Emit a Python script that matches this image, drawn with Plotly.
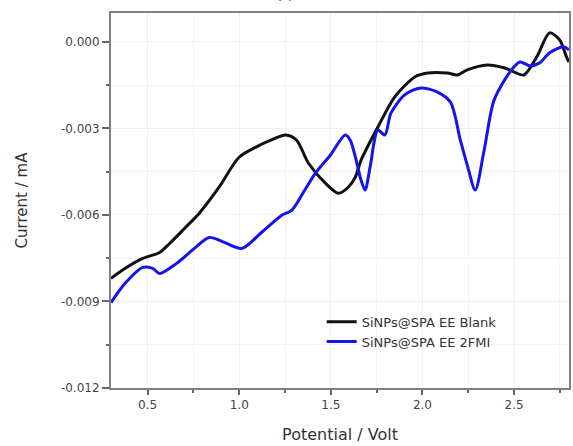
import plotly.graph_objects as go

# Black curve: SiNPs@SPA EE Blank
blank_v = [0.300, 0.376, 0.473, 0.565, 0.620, 0.701, 0.782, 0.890, 0.999, 1.091, 1.172, 1.253,
           1.313, 1.378, 1.470, 1.541, 1.595, 1.633, 1.665, 1.757, 1.849, 1.958, 2.028, 2.136,
           2.191, 2.245, 2.353, 2.445, 2.499, 2.554, 2.624, 2.694, 2.749, 2.786, 2.800]
blank_i = [-0.00820, -0.00786, -0.00751, -0.00730, -0.00699, -0.00647, -0.00594, -0.00504,
           -0.00400, -0.00365, -0.00341, -0.00323, -0.00341, -0.00421, -0.00490, -0.00525,
           -0.00504, -0.00470, -0.00410, -0.00295, -0.00191, -0.00122, -0.00108, -0.00108,
           -0.00115, -0.00097, -0.00080, -0.00090, -0.00104, -0.00115, -0.00052, 0.00031,
           0.00007, -0.00052, -0.00070]

# Blue curve: SiNPs@SPA EE 2FMI
fmi_v = [0.300, 0.376, 0.473, 0.528, 0.565, 0.658, 0.755, 0.836, 0.918, 1.015, 1.123, 1.232,
         1.286, 1.351, 1.416, 1.497, 1.578, 1.606, 1.638, 1.665, 1.687, 1.714, 1.757, 1.795,
         1.828, 1.903, 1.990, 2.082, 2.153, 2.207, 2.245, 2.288, 2.337, 2.391, 2.478, 2.532,
         2.586, 2.640, 2.694, 2.770, 2.800]
fmi_i = [-0.00904, -0.00838, -0.00782, -0.00785, -0.00803, -0.00768, -0.00716, -0.00678,
         -0.00695, -0.00716, -0.00660, -0.00601, -0.00584, -0.00521, -0.00455, -0.00393,
         -0.00323, -0.00341, -0.00410, -0.00480, -0.00514, -0.00435, -0.00306, -0.00323,
         -0.00247, -0.00184, -0.00160, -0.00174, -0.00209, -0.00341, -0.00428, -0.00514,
         -0.00375, -0.00202, -0.00104, -0.00070, -0.00083, -0.00073, -0.00038, -0.00017,
         -0.00028]

x_ticks = [0.5, 1.0, 1.5, 2.0, 2.5]
x_tick_labels = ["0.5", "1.0", "1.5", "2.0", "2.5"]
y_ticks = [0.0, -0.003, -0.006, -0.009, -0.012]
y_tick_labels = ["0.000", "-0.003", "-0.006", "-0.009", "-0.012"]

names = ["SiNPs@SPA EE Blank", "SiNPs@SPA EE 2FMI"]

FONT = "DejaVu Sans, Arial, sans-serif"

fig = go.Figure()
fig.add_trace(go.Scatter(x=blank_v, y=blank_i, mode="lines", name=names[0],
                         line=dict(color="#111111", width=3, shape="spline", smoothing=0.8)))
fig.add_trace(go.Scatter(x=fmi_v, y=fmi_i, mode="lines", name=names[1],
                         line=dict(color="#1414f0", width=3, shape="spline", smoothing=0.8)))

axis_common = dict(
    showline=True, linecolor="#808080", linewidth=2, mirror=True,
    ticks="outside", tickwidth=1.5, tickcolor="#666666",
    showgrid=True, gridcolor="#f0f0f0", gridwidth=1, zeroline=False,
    tickfont=dict(family=FONT, size=12, color="#444444"),
)

fig.update_xaxes(
    range=[0.3, 2.8], tickvals=x_ticks, ticktext=x_tick_labels, ticklen=5,
    title=dict(text="Potential / Volt", standoff=17,
               font=dict(family=FONT, size=16, color="#333333")),
    minor=dict(dtick=0.25, tick0=0.25, ticks="outside", ticklen=3, tickcolor="#666666",
               showgrid=True, gridcolor="#f5f5f5"),
    **axis_common,
)
fig.update_yaxes(
    range=[-0.012, 0.001], tickvals=y_ticks, ticktext=y_tick_labels, ticklen=7,
    title=dict(text="Current / mA", standoff=30,
               font=dict(family=FONT, size=15, color="#333333")),
    minor=dict(dtick=0.0015, tick0=0, ticks="outside", ticklen=3, tickcolor="#666666",
               showgrid=True, gridcolor="#f5f5f5"),
    **axis_common,
)

fig.update_layout(
    width=573, height=446,
    margin=dict(l=111, r=2, t=13, b=58),
    paper_bgcolor="white", plot_bgcolor="white",
    showlegend=True,
    legend=dict(x=0.46, y=0.15, xanchor="left", yanchor="middle",
                bgcolor="rgba(0,0,0,0)", borderwidth=0, tracegroupgap=0,
                itemwidth=30,
                font=dict(family=FONT, size=13, color="#333333")),
    annotations=[dict(text="(c)", xref="paper", yref="paper", x=0.38, y=1.022,
                      showarrow=False, yanchor="bottom",
                      font=dict(family=FONT, size=12, color="#222222"))],
)

fig.write_html("out.html", config={"displayModeBar": False},
               post_script="document.body.style.margin='0';")
